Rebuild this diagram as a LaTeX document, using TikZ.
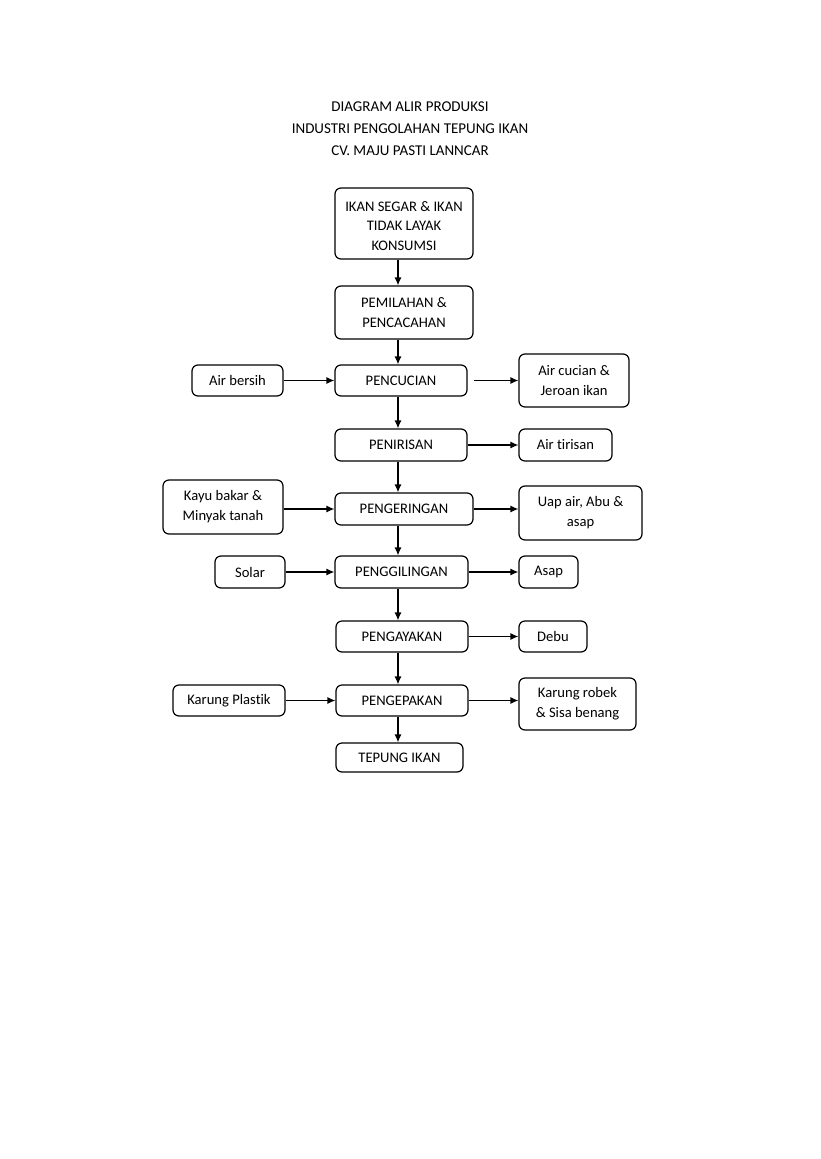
\documentclass[tikz,border=0pt]{standalone}
\usepackage{fontspec}
\setmainfont{Carlito}[Ligatures=NoCommon]
\usetikzlibrary{arrows.meta}
\begin{document}
\begin{tikzpicture}[x=1pt,y=-1pt,
  box/.style={draw=black, line width=1.2pt, rounded corners=6pt, align=center, inner sep=0pt,
     font=\fontsize{14.6}{19.8}\selectfont},
  ttl/.style={inner sep=0pt, font=\fontsize{15}{16}\selectfont},
  arr/.style={line width=1.2pt, -{Latex[length=8pt,width=7pt]}}]
\useasboundingbox[fill=white] (0,0) rectangle (820,1159);
\node[ttl] (t1) at (410,107) {DIAGRAM ALIR PRODUKSI};
\node[ttl] (t2) at (410,129) {INDUSTRI PENGOLAHAN TEPUNG IKAN};
\node[ttl] (t3) at (410,151) {CV. MAJU PASTI LANNCAR};
\coordinate (spine) at (398,0);
\node[box, minimum width=138pt, minimum height=71pt] (ikan) at (404,223.5) {\rule{0pt}{15pt}IKAN SEGAR \& IKAN\\TIDAK LAYAK\\KONSUMSI};
\node[box, minimum width=138pt, minimum height=53pt] (pemilahan) at (404,312.5) {PEMILAHAN \&\\PENCACAHAN};
\node[box, minimum width=132pt, minimum height=31pt] (pencucian) at (401,380.5) {PENCUCIAN};
\node[box, minimum width=91pt, minimum height=31pt] (airbersih) at (237.5,380.5) {Air bersih};
\node[box, minimum width=110pt, minimum height=53pt] (aircucian) at (574,380.5) {Air cucian \&\\Jeroan ikan};
\node[box, minimum width=132pt, minimum height=32pt] (penirisan) at (401,445) {PENIRISAN};
\node[box, minimum width=93pt, minimum height=32pt] (airtirisan) at (565.5,445) {Air tirisan};
\node[box, minimum width=138pt, minimum height=32pt] (pengeringan) at (404,509) {PENGERINGAN};
\node[box, minimum width=120pt, minimum height=54pt] (kayu) at (223,507) {Kayu bakar \&\\Minyak tanah};
\node[box, minimum width=123pt, minimum height=54pt] (uap) at (580.5,513) {Uap air, Abu \&\\asap};
\node[box, minimum width=133pt, minimum height=32pt] (penggilingan) at (401.5,572) {PENGGILINGAN};
\node[box, minimum width=70pt, minimum height=32pt] (solar) at (250,572) {Solar};
\node[box, minimum width=59pt, minimum height=32pt] (asap) at (548.5,572) {Asap};
\node[box, minimum width=132pt, minimum height=31pt] (pengayakan) at (402,636.5) {PENGAYAKAN};
\node[box, minimum width=68pt, minimum height=31pt] (debu) at (553,636.5) {Debu};
\node[box, minimum width=132pt, minimum height=31pt] (pengepakan) at (402,700.5) {PENGEPAKAN};
\node[box, minimum width=112pt, minimum height=31pt] (karungplastik) at (229,700.5) {Karung Plastik};
\node[box, minimum width=117pt, minimum height=52pt] (karungrobek) at (577.5,704) {Karung robek\\\& Sisa benang};
\node[box, minimum width=127pt, minimum height=29pt] (tepung) at (399.5,757.5) {TEPUNG IKAN};
% main spine
\draw[arr] (ikan.south -| spine) -- (pemilahan.north -| spine);
\draw[arr] (pemilahan.south -| spine) -- (pencucian.north -| spine);
\draw[arr] (pencucian.south -| spine) -- (penirisan.north -| spine);
\draw[arr] (penirisan.south -| spine) -- (pengeringan.north -| spine);
\draw[arr] (pengeringan.south -| spine) -- (penggilingan.north -| spine);
\draw[arr] (penggilingan.south -| spine) -- (pengayakan.north -| spine);
\draw[arr] (pengayakan.south -| spine) -- (pengepakan.north -| spine);
\draw[arr] (pengepakan.south -| spine) -- (tepung.north -| spine);
% inputs
\draw[arr] (airbersih.east) -- (pencucian.west);
\draw[arr] (kayu.east |- pengeringan.west) -- (pengeringan.west);
\draw[arr] (solar.east) -- (penggilingan.west);
\draw[arr] (karungplastik.east) -- (pengepakan.west);
% outputs
\draw[arr, shorten <=6pt] (pencucian.east) -- (aircucian.west |- pencucian.east);
\draw[arr] (penirisan.east) -- (airtirisan.west);
\draw[arr] (pengeringan.east) -- (uap.west |- pengeringan.east);
\draw[arr] (penggilingan.east) -- (asap.west);
\draw[arr] (pengayakan.east) -- (debu.west);
\draw[arr] (pengepakan.east) -- (karungrobek.west |- pengepakan.east);
\end{tikzpicture}
\end{document}
